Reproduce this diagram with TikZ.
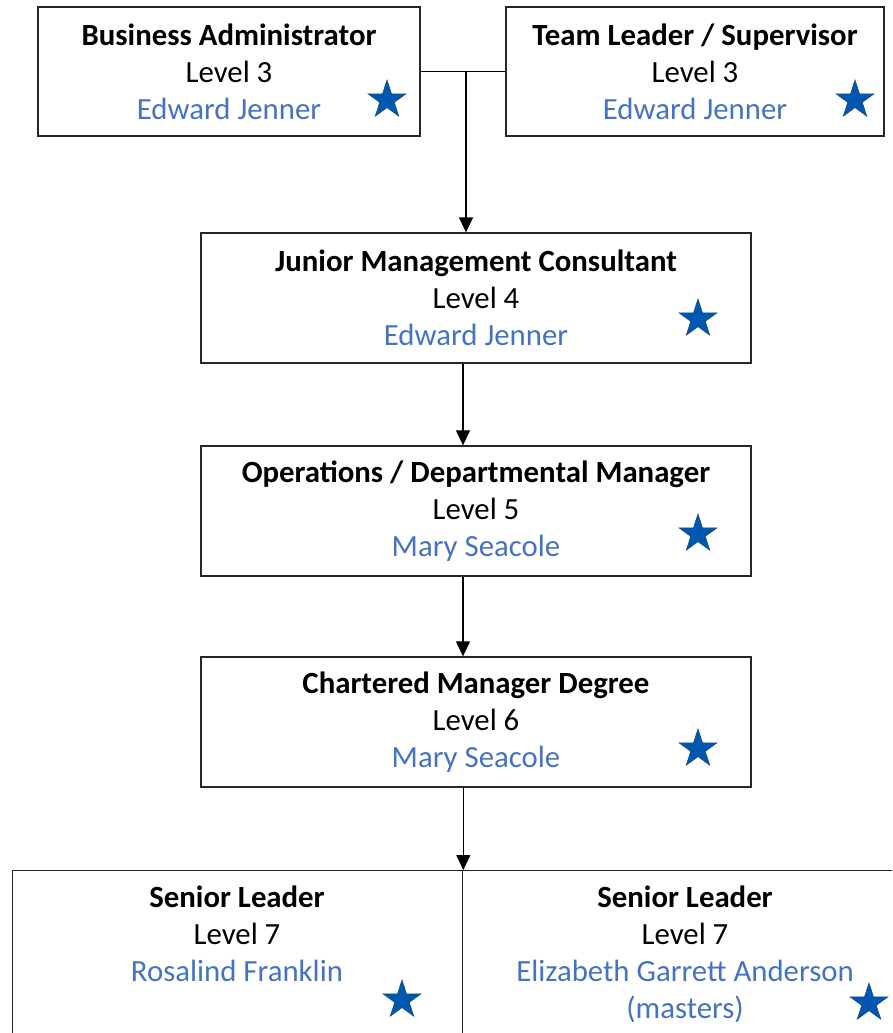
\documentclass[tikz,border=0pt]{standalone}
\usepackage{fontspec}
\setmainfont{Carlito}
\usetikzlibrary{shapes.geometric,arrows.meta}
\definecolor{nameblue}{HTML}{4472C4}
\definecolor{starfill}{HTML}{0057B0}
\definecolor{stardraw}{HTML}{1F4E79}
\begin{document}
\begin{tikzpicture}[x=1pt,y=-1pt,
  txt/.style={inner sep=0pt, align=center, font=\fontsize{30.8}{37}\selectfont},
  box/.style={txt, draw=black!85, line width=1.3pt},
  mystar/.style={star, star points=5, star point ratio=2.618, minimum size=40pt, inner sep=0pt, fill=starfill, draw=stardraw, line width=0.6pt},
  arr/.style={-{Triangle[length=15pt,width=14pt]}, line width=1.2pt}]
\useasboundingbox (0,0) rectangle (892,1033);
\clip (0,0) rectangle (892,1033);

\node[box, minimum width=382pt, minimum height=129pt] (ba) at (229,71.5)
  {\textbf{Business Administrator}\\Level 3\\\textcolor{nameblue}{Edward Jenner}};
\node[box, minimum width=378pt, minimum height=129pt] (tl) at (695,71.5)
  {\textbf{Team Leader / Supervisor}\\Level 3\\\textcolor{nameblue}{Edward Jenner}};
\node[box, minimum width=550pt, minimum height=130pt] (jmc) at (476,298)
  {\textbf{Junior Management Consultant}\\Level 4\\\textcolor{nameblue}{Edward Jenner}};
\node[box, minimum width=550pt, minimum height=130pt] (ops) at (476,511)
  {\textbf{Operations / Departmental Manager}\\Level 5\\\textcolor{nameblue}{Mary Seacole}};
\node[box, minimum width=550pt, minimum height=130pt] (cmd) at (476,722)
  {\textbf{Chartered Manager Degree}\\Level 6\\\textcolor{nameblue}{Mary Seacole}};

\node[draw=black!85, line width=1.3pt, minimum width=450pt, minimum height=200pt, inner sep=0pt, anchor=north west] (sl) at (12,870) {};
\node[draw=black!85, line width=1.3pt, minimum width=446pt, minimum height=200pt, inner sep=0pt, anchor=north west] (sr) at (462,870) {};
\node[txt, anchor=north] (slt) at (237,886)
  {\textbf{Senior Leader}\\Level 7\\\textcolor{nameblue}{Rosalind Franklin}};
\node[txt, anchor=north] (srt) at (685,886)
  {\textbf{Senior Leader}\\Level 7\\\textcolor{nameblue}{Elizabeth Garrett Anderson}\\\textcolor{nameblue}{(masters)}};

\node[mystar] (s1) at (387,100) {};
\node[mystar] (s2) at (855,100) {};
\node[mystar] (s3) at (698,319) {};
\node[mystar] (s4) at (698,534) {};
\node[mystar] (s5) at (698,749) {};
\node[mystar] (s6) at (402,1000) {};
\node[mystar] (s7) at (869,1003) {};

\draw[line width=1.3pt] (ba.east) -- (tl.west);
\coordinate (j) at (466,71.5);
\draw[arr, line width=1.6pt] (j) -- (j |- jmc.north);
\coordinate (c) at (463,0);
\draw[arr] (jmc.south -| c) -- (ops.north -| c);
\draw[arr] (ops.south -| c) -- (cmd.north -| c);
\draw[arr] (cmd.south -| sl.north east) -- (sl.north east);
\end{tikzpicture}
\end{document}
